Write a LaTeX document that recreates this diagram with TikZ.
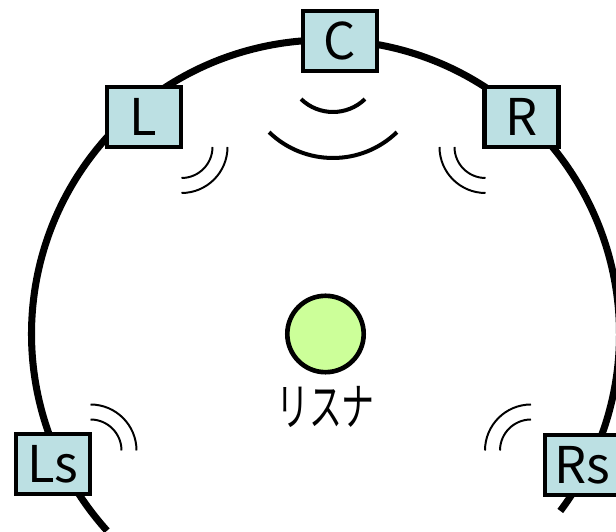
\documentclass[tikz,border=0pt]{standalone}
\usepackage{fontspec}
\setmainfont{Noto Sans CJK JP}
\newfontfamily\jpfont[FakeStretch=0.65]{Noto Sans CJK JP}
\usetikzlibrary{positioning}
\definecolor{spkfill}{HTML}{BCE0E3}
\definecolor{headfill}{HTML}{CCFF99}

\begin{document}
\begin{tikzpicture}[x=0.25mm,y=0.25mm,
  speaker/.style={draw, fill=spkfill, line width=2.85pt, inner sep=0pt,
                  minimum width=18.5mm, minimum height=15mm,
                  font=\fontsize{36}{40}\selectfont},
  rim/.style={line width=5pt},
  wave/.style={line width=1.4pt},
  bigwave/.style={line width=2.85pt}]

  \useasboundingbox (0,0) rectangle (616,532);

  % ----- macro: \waves{estilo}{centro}{ang. inicial}{ang. final}{raios} -----
  \newcommand{\waves}[5]{%
    \foreach \r in {#5}
      \draw[#1] (#2) ++(#3:\r) arc[start angle=#3, end angle=#4, radius=\r];
  }

  % ----- ouvinte -----
  \node[circle, draw, fill=headfill, line width=3.3pt, inner sep=0pt,
        minimum size=19.1mm] (listener) at (325.5,198) {};
  \node[below=3mm of listener, inner sep=0pt,
        font=\fontsize{36}{40}\selectfont\jpfont] (lbl) {リスナ};

  % ----- circulo dos alto-falantes -----
  \draw[rim] (listener.center) ++(-37:294)
    arc[start angle=-37, end angle=222, radius=294];

  % ----- alto-falantes -----
  \node[speaker] (C)  at (340,491)     {C};
  \node[speaker] (L)  at (143.7,415.3) {L};
  \node[speaker] (R)  at (521.5,415.3) {R};
  \node[speaker] (Ls) at (52.7,67.5)   {Ls};
  \node[speaker] (Rs) at (582,67)      {Rs};

  % ----- ondas sonoras -----
  \waves{bigwave}{333,466}{226}{314}{46,92}
  \waves{wave}{181.5,385}{0}{-90}{31,46}
  \waves{wave}{485.5,385}{180}{270}{31,46}
  \waves{wave}{90.5,81.5}{90}{0}{31,46}
  \waves{wave}{531,81.5}{90}{180}{31,46}

\end{tikzpicture}
\end{document}
